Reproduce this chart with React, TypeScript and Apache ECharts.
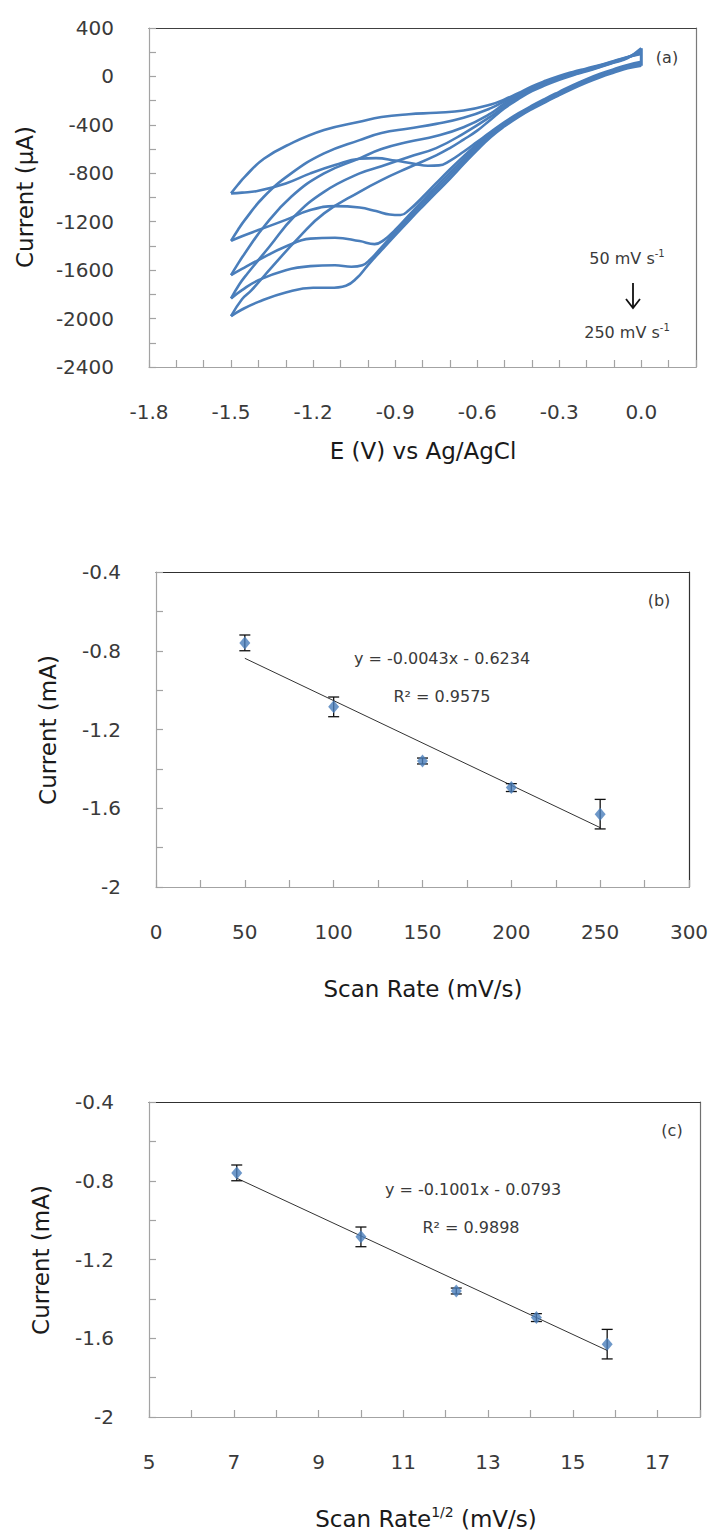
import React, { useEffect, useRef } from "react";
import * as echarts from "echarts";

// ---------- Panel (a): cyclic voltammograms (E in V, I in µA) ----------
const cv50Forward = [[0.00,120],[-0.05,95],[-0.10,60],[-0.15,22],[-0.20,-22],[-0.25,-72],[-0.30,-127],[-0.35,-183],[-0.40,-242],[-0.45,-306],[-0.50,-378],[-0.55,-458],[-0.60,-540],[-0.65,-622],[-0.70,-697],[-0.74,-735],[-0.78,-738],[-0.83,-722],[-0.90,-695],[-0.97,-675],[-1.03,-680],[-1.12,-732],[-1.21,-801],[-1.30,-884],[-1.40,-945],[-1.46,-960],[-1.50,-966]];
const cv50Reverse = [[-1.50,-966],[-1.475,-895],[-1.45,-829],[-1.38,-680],[-1.28,-553],[-1.16,-443],[-1.03,-374],[-0.95,-335],[-0.85,-312],[-0.75,-300],[-0.65,-282],[-0.55,-232],[-0.50,-190],[-0.45,-138],[-0.40,-82],[-0.35,-36],[-0.30,4],[-0.25,37],[-0.20,66],[-0.15,95],[-0.10,128],[-0.05,160],[0.00,185]];

const cv100Forward = [[0.00,112],[-0.05,88],[-0.10,53],[-0.15,15],[-0.20,-29],[-0.25,-79],[-0.30,-134],[-0.35,-190],[-0.40,-249],[-0.45,-313],[-0.50,-385],[-0.55,-466],[-0.60,-558],[-0.65,-660],[-0.70,-768],[-0.75,-882],[-0.80,-998],[-0.85,-1105],[-0.88,-1145],[-0.92,-1140],[-0.97,-1112],[-1.03,-1083],[-1.12,-1071],[-1.21,-1104],[-1.30,-1185],[-1.40,-1269],[-1.46,-1320],[-1.50,-1358]];
const cv100Reverse = [[-1.50,-1358],[-1.475,-1268],[-1.45,-1187],[-1.38,-994],[-1.28,-801],[-1.16,-636],[-1.03,-526],[-0.95,-468],[-0.85,-430],[-0.75,-392],[-0.65,-342],[-0.55,-262],[-0.50,-205],[-0.45,-150],[-0.40,-92],[-0.35,-45],[-0.30,-4],[-0.25,30],[-0.20,60],[-0.15,90],[-0.10,124],[-0.05,158],[0.00,196]];

const cv150Forward = [[0.00,104],[-0.05,81],[-0.10,46],[-0.15,8],[-0.20,-36],[-0.25,-86],[-0.30,-141],[-0.35,-197],[-0.40,-256],[-0.45,-320],[-0.50,-393],[-0.55,-476],[-0.60,-575],[-0.65,-683],[-0.70,-795],[-0.75,-910],[-0.80,-1028],[-0.85,-1148],[-0.90,-1268],[-0.94,-1350],[-0.975,-1385],[-1.03,-1360],[-1.12,-1332],[-1.21,-1340],[-1.30,-1405],[-1.40,-1517],[-1.46,-1590],[-1.50,-1641]];
const cv150Reverse = [[-1.50,-1641],[-1.475,-1548],[-1.45,-1462],[-1.38,-1242],[-1.28,-994],[-1.16,-801],[-1.03,-677],[-0.95,-600],[-0.85,-540],[-0.75,-492],[-0.65,-420],[-0.55,-305],[-0.50,-225],[-0.45,-163],[-0.40,-102],[-0.35,-54],[-0.30,-12],[-0.25,23],[-0.20,54],[-0.15,86],[-0.10,120],[-0.05,156],[0.00,207]];

const cv200Forward = [[0.00,96],[-0.05,74],[-0.10,39],[-0.15,1],[-0.20,-43],[-0.25,-93],[-0.30,-148],[-0.35,-204],[-0.40,-263],[-0.45,-328],[-0.50,-402],[-0.55,-488],[-0.60,-592],[-0.65,-705],[-0.70,-820],[-0.75,-935],[-0.80,-1050],[-0.85,-1170],[-0.90,-1290],[-0.95,-1412],[-0.99,-1510],[-1.02,-1560],[-1.06,-1572],[-1.12,-1560],[-1.21,-1567],[-1.30,-1600],[-1.40,-1683],[-1.46,-1765],[-1.50,-1834]];
const cv200Reverse = [[-1.50,-1834],[-1.47,-1718],[-1.44,-1628],[-1.36,-1407],[-1.27,-1159],[-1.16,-953],[-1.03,-801],[-0.95,-742],[-0.85,-665],[-0.75,-592],[-0.65,-472],[-0.55,-330],[-0.50,-245],[-0.45,-176],[-0.40,-112],[-0.35,-63],[-0.30,-20],[-0.25,16],[-0.20,48],[-0.15,82],[-0.10,117],[-0.05,155],[0.00,220]];

const cv250Forward = [[0.00,88],[-0.05,67],[-0.10,32],[-0.15,-6],[-0.20,-50],[-0.25,-100],[-0.30,-155],[-0.35,-211],[-0.40,-270],[-0.45,-336],[-0.50,-412],[-0.55,-500],[-0.60,-608],[-0.65,-725],[-0.70,-845],[-0.75,-960],[-0.80,-1075],[-0.85,-1192],[-0.90,-1312],[-0.95,-1435],[-1.00,-1560],[-1.04,-1665],[-1.08,-1728],[-1.14,-1746],[-1.20,-1745],[-1.30,-1785],[-1.40,-1862],[-1.46,-1925],[-1.50,-1980]];
const cv250Reverse = [[-1.50,-1980],[-1.46,-1840],[-1.425,-1765],[-1.35,-1573],[-1.25,-1325],[-1.16,-1131],[-1.03,-953],[-0.95,-856],[-0.85,-752],[-0.75,-652],[-0.70,-592],[-0.65,-522],[-0.60,-448],[-0.55,-355],[-0.50,-262],[-0.45,-188],[-0.40,-122],[-0.35,-72],[-0.30,-28],[-0.25,10],[-0.20,43],[-0.15,78],[-0.10,114],[-0.05,152],[0.00,232]];

const cvForwardScans = [cv50Forward, cv100Forward, cv150Forward, cv200Forward, cv250Forward];
const cvReverseScans = [cv50Reverse, cv100Reverse, cv150Reverse, cv200Reverse, cv250Reverse];

const cvXTickLabels = ["-1.8", "-1.5", "-1.2", "-0.9", "-0.6", "-0.3", "0.0"];
const cvYTickLabels = ["400", "0", "-400", "-800", "-1200", "-1600", "-2000", "-2400"];

// ---------- Panels (b) and (c): peak current vs scan rate ----------
const scanRates = [50, 100, 150, 200, 250];
const sqrtScanRates = [7.07, 10.0, 12.25, 14.14, 15.81];
const peakCurrents = [-0.76, -1.085, -1.36, -1.495, -1.63];
const peakErrors = [0.04, 0.05, 0.015, 0.02, 0.075];

const fitSlopeB = -0.0043;
const fitInterceptB = -0.6234;
const fitSlopeC = -0.1001;
const fitInterceptC = -0.0793;

const rateXTickLabels = ["0", "50", "100", "150", "200", "250", "300"];
const sqrtXTickLabels = ["5", "7", "9", "11", "13", "15", "17"];
const currentYTickLabels = ["-2", "-1.6", "-1.2", "-0.8", "-0.4"];

const FONT = "DejaVu Sans";
const BLUE = "#4A7EBB";
const AXIS_GRAY = "#a3a3a3";
const LABEL_COLOR = "#3a3a3a";

const fmtFrom = (labels: string[]) => (v: number) => {
  const hit = labels.find((l) => Math.abs(parseFloat(l) - v) < 1e-6);
  return hit === undefined ? "" : hit;
};

function bottomAxis(grid: number, min: number, max: number, interval: number, labels: string[]) {
  return {
    type: "value", gridIndex: grid, position: "bottom", min, max, interval,
    axisLine: { show: true, onZero: false, lineStyle: { color: AXIS_GRAY, width: 1.2 } },
    axisTick: { show: true, inside: true, length: 7, lineStyle: { color: AXIS_GRAY, width: 1.2 } },
    axisLabel: { show: true, margin: 35, formatter: fmtFrom(labels), color: LABEL_COLOR, fontFamily: FONT, fontSize: 20, hideOverlap: false },
    splitLine: { show: false },
  };
}
function leftAxis(grid: number, min: number, max: number, interval: number, labels: string[]) {
  return {
    type: "value", gridIndex: grid, position: "left", min, max, interval,
    axisLine: { show: true, onZero: false, lineStyle: { color: AXIS_GRAY, width: 1.2 } },
    axisTick: { show: true, inside: true, length: 7, lineStyle: { color: AXIS_GRAY, width: 1.2 } },
    axisLabel: { show: true, margin: 35, formatter: fmtFrom(labels), color: LABEL_COLOR, fontFamily: FONT, fontSize: 20, hideOverlap: false },
    splitLine: { show: false },
  };
}
function frameAxis(grid: number, pos: string, min: number, max: number, color: string) {
  return {
    type: "value", gridIndex: grid, position: pos, min, max,
    axisLine: { show: true, onZero: false, lineStyle: { color, width: 1.2 } },
    axisTick: { show: false }, axisLabel: { show: false }, splitLine: { show: false },
  };
}

function text(t: string, x: number, y: number, size: number, color: string, extra: any = {}) {
  return {
    type: "text", x, y, rotation: extra.rotation || 0, z: 10,
    style: {
      text: t, fontFamily: FONT, fontSize: size, fill: color,
      textAlign: extra.align || "center", textVerticalAlign: "middle",
      align: extra.align || "center", verticalAlign: "middle",
      rich: extra.rich,
    },
  };
}

function errorBarSeries(xVals: number[], axisIdx: number) {
  return {
    type: "custom", xAxisIndex: axisIdx, yAxisIndex: axisIdx, z: 3, silent: true,
    data: xVals.map((x, i) => [x, peakCurrents[i], peakErrors[i]]),
    encode: { x: 0, y: 1 },
    renderItem: (_p: any, api: any) => {
      const x = api.value(0), y = api.value(1), e = api.value(2);
      const top = api.coord([x, y + e]);
      const bot = api.coord([x, y - e]);
      const hw = 5.5;
      const st = { stroke: "#111", lineWidth: 1.3 };
      return {
        type: "group",
        children: [
          { type: "line", shape: { x1: top[0], y1: top[1], x2: bot[0], y2: bot[1] }, style: st },
          { type: "line", shape: { x1: top[0] - hw, y1: top[1], x2: top[0] + hw, y2: top[1] }, style: st },
          { type: "line", shape: { x1: bot[0] - hw, y1: bot[1], x2: bot[0] + hw, y2: bot[1] }, style: st },
        ],
      };
    },
  };
}

function pointSeries(xVals: number[], axisIdx: number) {
  return {
    type: "scatter", xAxisIndex: axisIdx, yAxisIndex: axisIdx, z: 4, silent: true,
    symbol: "diamond", symbolSize: [11, 13],
    itemStyle: { color: BLUE },
    data: xVals.map((x, i) => [x, peakCurrents[i]]),
  };
}

function fitSeries(xVals: number[], slope: number, intercept: number, axisIdx: number) {
  const x0 = xVals[0], x1 = xVals[xVals.length - 1];
  return {
    type: "line", xAxisIndex: axisIdx, yAxisIndex: axisIdx, z: 2, silent: true, showSymbol: false,
    lineStyle: { color: "#333", width: 1 },
    data: [[x0, slope * x0 + intercept], [x1, slope * x1 + intercept]],
  };
}

export default function App() {
  const ref = useRef<HTMLDivElement>(null);
  useEffect(() => {
    if (!ref.current) return;
    const chart = echarts.init(ref.current, null, { renderer: "svg" });

    const cvSeries: any[] = [];
    [...cvForwardScans, ...cvReverseScans].forEach((d) => {
      cvSeries.push({
        type: "line", xAxisIndex: 0, yAxisIndex: 0, data: d, showSymbol: false, silent: true,
        smooth: 0.45, lineStyle: { color: BLUE, width: 2.6, join: "round" }, z: 2,
      });
    });
    const starts = cvForwardScans.map((d) => d[0][1]);
    const ends = cvReverseScans.map((d) => d[d.length - 1][1]);
    cvSeries.push({
      type: "line", xAxisIndex: 0, yAxisIndex: 0, showSymbol: false, silent: true,
      lineStyle: { color: BLUE, width: 3 }, z: 2,
      data: [[0, Math.min(...starts)], [0, Math.max(...ends)]],
    });

    const sup = { sup: { fontFamily: FONT, fontSize: 10, fill: LABEL_COLOR, verticalAlign: "top", lineHeight: 20 } };
    const supTitle = { sup: { fontFamily: FONT, fontSize: 14, fill: "#1a1a1a", verticalAlign: "top", lineHeight: 28 } };

    const option: any = {
      animation: false,
      backgroundColor: "#ffffff",
      grid: [
        { left: 149, top: 28, width: 547, height: 339 },
        { left: 156, top: 572, width: 533, height: 315 },
        { left: 149, top: 1102, width: 551, height: 315 },
      ],
      xAxis: [
        bottomAxis(0, -1.8, 0.2, 0.1, cvXTickLabels),
        frameAxis(0, "top", -1.8, 0.2, "#404040"),
        bottomAxis(1, 0, 300, 25, rateXTickLabels),
        frameAxis(1, "top", 0, 300, "#303030"),
        bottomAxis(2, 5, 18, 1, sqrtXTickLabels),
        frameAxis(2, "top", 5, 18, "#303030"),
      ],
      yAxis: [
        leftAxis(0, -2400, 400, 200, cvYTickLabels),
        frameAxis(0, "right", -2400, 400, "#7a7a7a"),
        leftAxis(1, -2, -0.4, 0.2, currentYTickLabels),
        frameAxis(1, "right", -2, -0.4, "#303030"),
        leftAxis(2, -2, -0.4, 0.2, currentYTickLabels),
        frameAxis(2, "right", -2, -0.4, "#707070"),
      ],
      series: [
        ...cvSeries,
        errorBarSeries(scanRates, 2),
        pointSeries(scanRates, 2),
        fitSeries(scanRates, fitSlopeB, fitInterceptB, 2),
        errorBarSeries(sqrtScanRates, 4),
        pointSeries(sqrtScanRates, 4),
        fitSeries(sqrtScanRates, fitSlopeC, fitInterceptC, 4),
      ],
      graphic: [
        // panel (a)
        text("Current (μA)", 25, 197, 23, "#1a1a1a", { rotation: Math.PI / 2 }),
        text("E (V) vs Ag/AgCl", 423, 451, 23, "#1a1a1a"),
        text("(a)", 667, 57, 16, LABEL_COLOR),
        text("50 mV s{sup|-1}", 627, 258, 16, LABEL_COLOR, { rich: sup }),
        text("250 mV s{sup|-1}", 627, 332, 16, LABEL_COLOR, { rich: sup }),
        { type: "line", z: 10, shape: { x1: 633, y1: 283, x2: 633, y2: 308 }, style: { stroke: "#111", lineWidth: 1.8 } },
        { type: "polyline", z: 10, shape: { points: [[626, 299], [633, 308], [640, 299]] }, style: { stroke: "#111", lineWidth: 1.8, fill: null } },
        // panel (b)
        text("Current (mA)", 48, 730, 23, "#1a1a1a", { rotation: Math.PI / 2 }),
        text("Scan Rate (mV/s)", 423, 989, 23, "#1a1a1a"),
        text("(b)", 659, 600, 16, LABEL_COLOR),
        text("y = -0.0043x - 0.6234", 442, 658, 16, LABEL_COLOR),
        text("R² = 0.9575", 442, 696, 16, LABEL_COLOR),
        // panel (c)
        text("Current (mA)", 41, 1260, 23, "#1a1a1a", { rotation: Math.PI / 2 }),
        text("Scan Rate{sup|1/2} (mV/s)", 426, 1519, 23, "#1a1a1a", { rich: supTitle }),
        text("(c)", 672, 1130, 16, LABEL_COLOR),
        text("y = -0.1001x - 0.0793", 473, 1189, 16, LABEL_COLOR),
        text("R² = 0.9898", 471, 1227, 16, LABEL_COLOR),
      ],
    };
    chart.setOption(option);
    return () => chart.dispose();
  }, []);
  return <div ref={ref} style={{ position: "absolute", left: 0, top: 0, width: 713, height: 1533, background: "#fff" }} />;
}
